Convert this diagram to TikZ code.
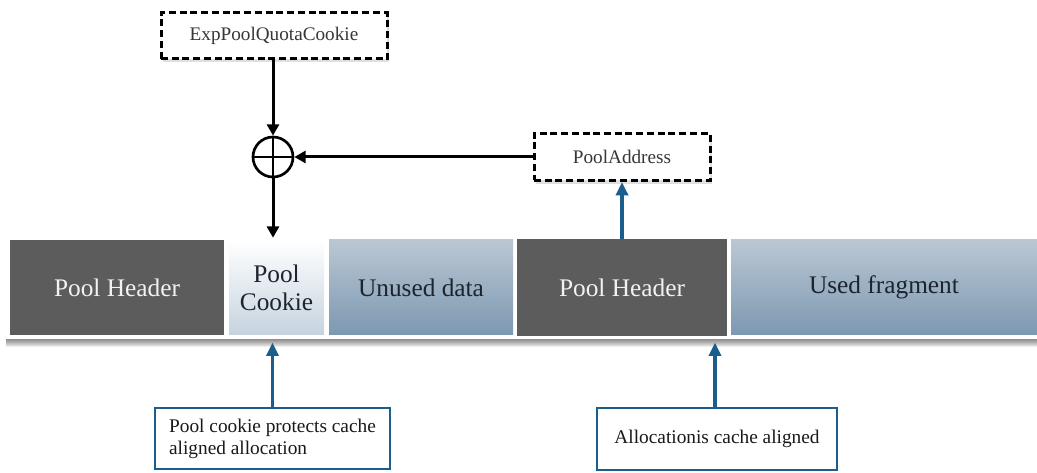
\documentclass[tikz,border=0pt]{standalone}
\usepackage{fontspec}
\setmainfont{Liberation Serif}
\usetikzlibrary{shadows,arrows.meta}

\definecolor{hdrgrey}{RGB}{92,92,92}
\definecolor{hdrtext}{RGB}{242,242,242}
\definecolor{textdark}{RGB}{28,36,46}
\definecolor{boxtext}{RGB}{55,55,55}
\definecolor{notetext}{RGB}{25,25,25}
\definecolor{noteblue}{RGB}{27,94,140}
\definecolor{steeltop}{RGB}{186,199,211}
\definecolor{steelbot}{RGB}{124,152,177}
\definecolor{cookiebot}{RGB}{198,211,223}

\begin{document}
\begin{tikzpicture}[x=0.75pt,y=-0.75pt,
  seg/.style={minimum height=71.25pt, inner sep=0pt, align=center,
    font=\fontsize{19}{21}\selectfont, text=textdark},
  hdr/.style={seg, fill=hdrgrey, text=hdrtext},
  steel/.style={seg, top color=steeltop, bottom color=steelbot},
  cookiefill/.style={seg, top color=white, bottom color=cookiebot},
  dbox/.style={draw=black, line width=2.25pt, dash pattern=on 5.25pt off 2.8pt,
    fill=white, inner sep=0pt, text=boxtext,
    font=\fontsize{14.4}{16}\selectfont,
    drop shadow={shadow xshift=1.5pt, shadow yshift=-2.5pt, opacity=0.25}},
  note/.style={draw=noteblue, line width=2.2pt, fill=white, inner sep=0pt,
    text=notetext, font=\fontsize{14.5}{16.5}\selectfont},
  blk/.style={line width=2.25pt, -{Triangle[length=8.5pt,width=9pt]}},
  blu/.style={draw=noteblue, line width=2.6pt, -{Triangle[length=10pt,width=9pt]}}
]
\useasboundingbox (0,0) rectangle (1037,473);

% soft shadow under the memory strip
\foreach \d in {1,...,8}
  \fill[black, opacity=0.07] (6,245) rectangle (1037,339+\d);

% memory strip with white frame
\node[fill=white, inner sep=0pt, minimum width=774pt, minimum height=76.5pt] (bar) at (521,288) {};

\node[hdr, minimum width=160.5pt] (ph1) at (117,287.5) {Pool Header};
\node[cookiefill, minimum width=71.25pt] (cookie) at (276.5,287.5) {Pool\\Cookie};
\node[steel, minimum width=138pt] (unused) at (421,287.5) {Unused data};
\node[hdr, minimum width=157.5pt, minimum height=72.75pt] (ph2) at (622,287.5) {Pool Header};
\node[steel, minimum width=229.5pt] (used) at (884,287.5) {Used fragment};

% cookie computation
\node[dbox, minimum width=169.5pt, minimum height=34.5pt] (quota) at (274,36) {ExpPoolQuotaCookie};
\node[dbox, minimum width=132pt, minimum height=35.25pt] (addr) at (622,157) {PoolAddress};
\node[draw, circle, line width=2pt, minimum size=30pt, inner sep=0pt] (xor) at (273,157) {};
\draw[line width=2pt] (xor.north) -- (xor.south) (xor.west) -- (xor.east);

\draw[blk] (quota.south -| xor.north) -- (xor.north);
\draw[blk] (addr.west) -- (xor.east);
\draw[blk] (xor.south) -- ([yshift=1.5pt]xor.south |- cookie.north);
\draw[blu] (ph2.north) -- (addr.south);

% annotations
\node[note, minimum width=176.25pt, minimum height=45.75pt, align=left] (n1) at (272.5,438.5)
  {Pool cookie protects cache\\aligned allocation};
\node[note, minimum width=180pt, minimum height=46.5pt] (n2) at (717,439)
  {Allocationis cache aligned};

\draw[blu] (n1.north) -- ([yshift=-2.5pt]n1.north |- bar.south);
\draw[blu] ([xshift=-1.5pt]n2.north) -- ([xshift=-1.5pt,yshift=-2.5pt]n2.north |- bar.south);
\end{tikzpicture}
\end{document}
